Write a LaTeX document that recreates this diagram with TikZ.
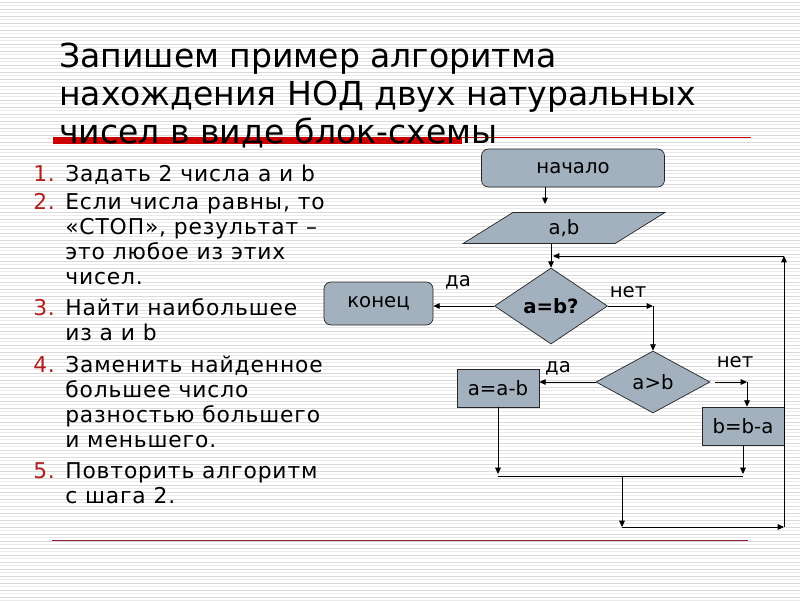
\documentclass[tikz,border=0pt]{standalone}
\usepackage{fontspec}
\setmainfont{DejaVu Sans}
\newfontfamily\listfont[LetterSpace=4]{DejaVu Sans}
\usetikzlibrary{arrows.meta,shapes.geometric}
\definecolor{boxfill}{HTML}{A3B1BE}
\definecolor{titlered}{HTML}{CC0000}
\definecolor{numred}{HTML}{B01E1E}
\definecolor{rulered}{HTML}{8B2436}
\definecolor{stripe}{HTML}{D9D9D9}
\tikzset{
  flow/.style={draw=black!85,fill=boxfill,line width=0.5pt,inner sep=0pt,
    font=\fontsize{14}{16}\selectfont},
  termbox/.style={flow,rounded corners=5pt,minimum width=4.575cm,minimum height=0.95cm},
  iobox/.style={flow,trapezium,trapezium left angle=49,trapezium right angle=131,
    trapezium stretches,minimum width=5.05cm,minimum height=0.775cm},
  condbox/.style={flow,diamond,minimum width=2.825cm,minimum height=1.9cm},
  procbox/.style={flow,minimum width=2.05cm,minimum height=0.95cm},
  conn/.style={-{Triangle[length=4.5pt,width=4pt]},line width=0.6pt},
  edgelabel/.style={font=\fontsize{14}{16}\selectfont,inner sep=0pt},
  titletext/.style={font=\fontsize{23.5}{28}\selectfont,inner sep=0pt,anchor=base west},
  listtext/.style={font=\fontsize{15.5}{18}\selectfont\listfont,inner sep=0pt,anchor=base west},
}

\begin{document}
\begin{tikzpicture}[x=0.025cm,y=-0.025cm]
  \useasboundingbox (0,0) rectangle (800,600);
  % lined background
  \fill[white] (0,0) rectangle (800,600);
  \foreach \k in {0,...,85}{
    \draw[stripe,line width=0.7pt] (0,\k*7+2) -- (800,\k*7+2);
    \draw[stripe!55,line width=0.7pt] (0,\k*7+5.5) -- (800,\k*7+5.5);
  }

  % Title
  \fill[titlered] (53,137) rectangle (462,144);
  \draw[titlered,line width=0.6pt] (462,137) -- (751,137);
  \node[titletext] (t1) at (59,67) {Запишем пример алгоритма};
  \node[titletext] (t2) at (59,105) {нахождения НОД двух натуральных};
  \node[titletext] (t3) at (59,143) {чисел в виде блок-схемы};
  \draw[rulered,line width=0.7pt] (52,540) -- (748,540);

  % Steps
  \foreach \yy/\nn in {181/1,209/2,315/3,372/4,478/5}
    \node[listtext,text=numred] (num\nn) at (33,\yy) {\nn.};
  \foreach \yy/\txt in {181/{Задать 2 числа a и b},209/{Если числа равны, то},
      234/{«СТОП», результат –},259/{это любое из этих},284/{чисел.},
      315/{Найти наибольшее},340/{из a и b},372/{Заменить найденное},
      397/{большее число},422/{разностью большего},447/{и меньшего.},
      478/{Повторить алгоритм},503/{с шага 2.}}
    \node[listtext] (ln\yy) at (65,\yy) {\txt};

  % Flowchart
  \node[termbox] (start) at (573,168) {начало};
  \node[iobox] (input) at (564,228) {a,b};
  \node[condbox,font=\fontsize{14}{16}\selectfont\bfseries] (eq) at (551,306) {a=b?};
  \node[termbox,minimum width=2.725cm,minimum height=1.075cm] (stop) at (378.5,303.5) {конец};
  \node[condbox,minimum width=2.85cm,minimum height=1.55cm] (gt) at (653,382) {a>b};
  \node[procbox] (suba) at (498,388) {a=a-b};
  \node[procbox] (subb) at (743,426) {b=b-a};

  \node[edgelabel] (yes1) at (458,282) {да};
  \node[edgelabel] (no1) at (628,292) {нет};
  \node[edgelabel] (yes2) at (558,368) {да};
  \node[edgelabel] (no2) at (735,362) {нет};

  \coordinate (c0) at (545,204);
  \coordinate (c1) at (653,306);
  \coordinate (c2) at (747,382);
  \coordinate (j1) at (498,476);
  \coordinate (j2) at (743,476);
  \coordinate (j3) at (622,476);
  \coordinate (j4) at (622,527);
  \coordinate (j5) at (784,527);
  \coordinate (j6) at (784,256);
  \coordinate (j7) at (553,256);

  \draw[conn] (start.south -| c0) -- (c0);
  \draw[conn] (input.south -| eq.north) -- (eq.north);
  \draw[conn] (eq.west) -- (eq.west -| stop.east);
  \draw[conn] (eq.east) -- (c1);
  \draw[conn] (c1) -- (gt.north);
  \draw[conn] (gt.west) -- (gt.west -| suba.east);
  \draw[conn] ([xshift=0.125cm]gt.east) -- (c2);
  \draw[conn] (c2) -- (c2 |- subb.north);
  \draw[conn] (suba.south) -- ([yshift=0.05cm]j1);
  \draw[conn] (subb.south) -- ([yshift=0.05cm]j2);
  \draw[line width=0.6pt] (j1) -- (j2);
  \draw[conn] (j3) -- (j4);
  \draw[conn] (j4) -- (j5);
  \draw[conn] (j5) -- (j6);
  \draw[conn] (j6) -- (j7);
\end{tikzpicture}
\end{document}
